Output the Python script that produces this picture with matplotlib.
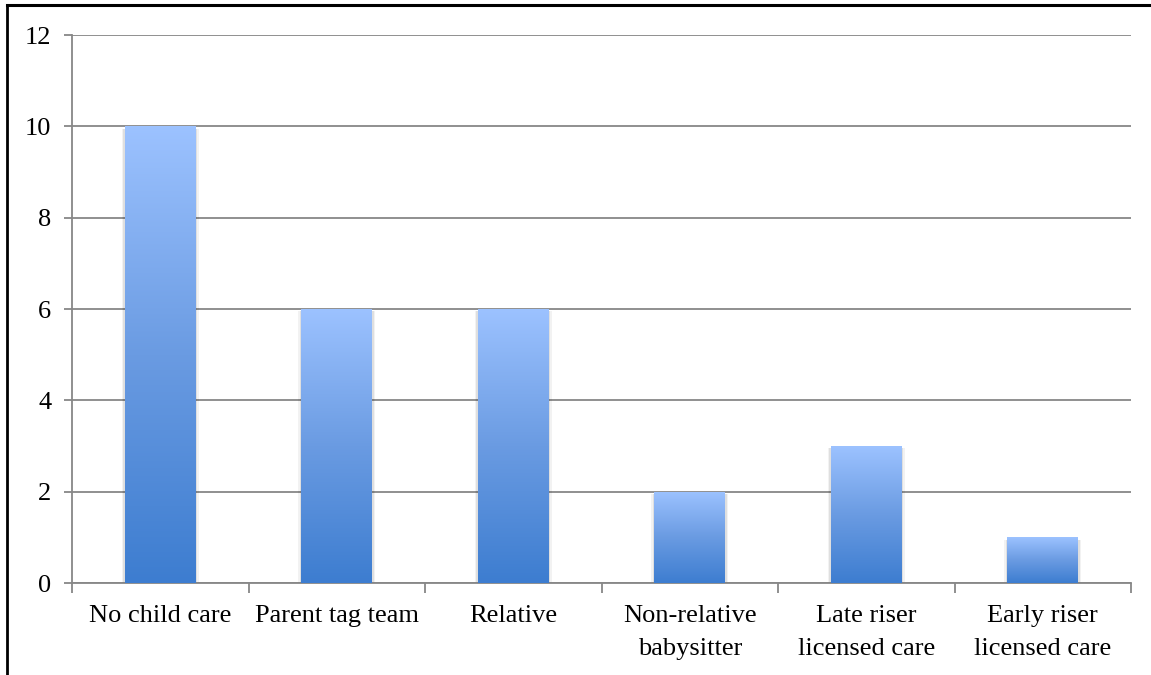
import matplotlib.pyplot as plt
import numpy as np
from matplotlib.colors import LinearSegmentedColormap

categories = ["No child care", "Parent tag team", "Relative",
              "Non-relative\nbabysitter", "Late riser\nlicensed care",
              "Early riser\nlicensed care"]
values = [10, 6, 6, 2, 3, 1]
y_ticks = [0, 2, 4, 6, 8, 10, 12]

plt.rcParams["font.family"] = ["Liberation Serif", "DejaVu Serif"]

fig = plt.figure(figsize=(11.51, 6.75), dpi=100)
ax = fig.add_axes([72 / 1151, 1 - 583 / 675, (1131 - 72) / 1151, (583 - 35) / 675])

# black frame line at top and left of the picture
fig.add_artist(plt.Line2D([7 / 1151, 7 / 1151], [0, 1 - 5 / 675], color="black", lw=2))
fig.add_artist(plt.Line2D([7 / 1151, 1], [1 - 5 / 675, 1 - 5 / 675], color="black", lw=2.2))

grey = "#878787"
x = np.arange(len(categories))
width = 0.40
bars = ax.bar(x, values, width=width, color="none", zorder=3)

cmap = LinearSegmentedColormap.from_list("blu", ["#3d7dd0", "#6a9be2", "#9cc2ff"])
grad = np.linspace(0, 1, 256).reshape(-1, 1)
for b in bars:
    x0, y0 = b.get_x(), b.get_y()
    w, h = b.get_width(), b.get_height()
    # soft shadow round the bar
    for k, a in [(0.018, 0.05), (0.010, 0.08)]:
        ax.add_patch(plt.Rectangle((x0 - k, y0), w + 2 * k, h - 0.05, color="black",
                                   alpha=a, lw=0, zorder=2))
    im = ax.imshow(grad, extent=[x0, x0 + w, y0, y0 + h], origin="lower",
                   cmap=cmap, aspect="auto", zorder=3)
    im.set_clip_path(b)

ax.set_xlim(-0.5, len(categories) - 0.5)
ax.set_ylim(0, 12)
ax.set_yticks(y_ticks)
ax.yaxis.grid(True, color=grey, lw=1.3, zorder=0)
ax.set_axisbelow(True)

ax.set_xticks(x)
ax.set_xticklabels(categories, fontsize=19, linespacing=1.65)
ax.set_xticks(np.arange(len(categories) + 1) - 0.5, minor=True)
ax.tick_params(axis="x", which="major", length=0, pad=16)
ax.tick_params(axis="x", which="minor", length=7, color=grey, width=1.3)
ax.tick_params(axis="y", length=6, color=grey, width=1.3, labelsize=19, pad=9)

for s in ["top", "right"]:
    ax.spines[s].set_visible(False)
ax.spines["left"].set_color(grey)
ax.spines["bottom"].set_color(grey)
ax.spines["left"].set_linewidth(1.3)
ax.spines["bottom"].set_linewidth(1.3)

fig.savefig("out.png", dpi=100)
